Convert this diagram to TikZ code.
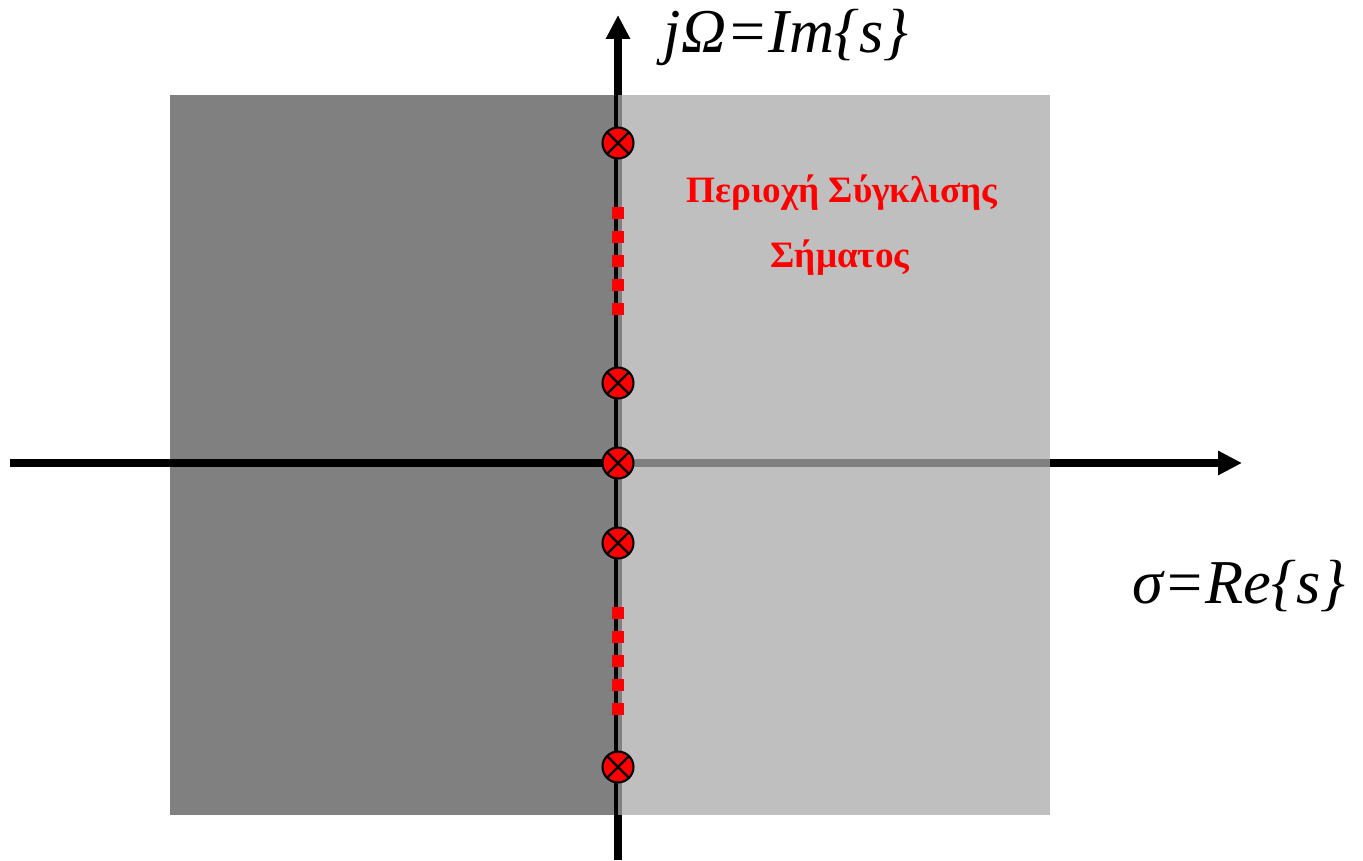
\documentclass[tikz,border=0pt]{standalone}
\usepackage{fontspec}
\setmainfont{Liberation Serif}
\usetikzlibrary{arrows.meta}
\definecolor{planegray}{HTML}{808080}
\definecolor{polered}{HTML}{FF0000}
\tikzset{
axis/.style={-{Triangle[length=13.6pt,width=13pt]},line width=4.5pt,draw=black},
pole/.style={circle,draw=black,fill=polered,line width=1.2pt,minimum size=17.6pt,inner sep=0pt,
  path picture={\draw[line width=1.3pt] (path picture bounding box.north west)--(path picture bounding box.south east)
  (path picture bounding box.north east)--(path picture bounding box.south west);}},
gapdot/.style={rectangle,fill=polered,minimum size=6.8pt,inner sep=0pt},
axislabel/.style={anchor=base,inner sep=0pt,font=\itshape\fontsize{35.5}{38}\selectfont},
roclabel/.style={font=\bfseries\fontsize{21.2}{23}\selectfont,text=polered,anchor=base,inner sep=0pt}}

\begin{document}
\begin{tikzpicture}[x=0.02cm,y=-0.02cm]
\useasboundingbox (0,0) rectangle (1363,861);
% s-plane and region of convergence
\fill[planegray] (170,95) rectangle (1050,815);
\coordinate (west) at (10,463);
\coordinate (east) at (1242,463);
\coordinate (south) at (618,860);
\coordinate (north) at (618,15);
\draw[axis] (west)--(east);
\draw[axis] (south)--(north);
\fill[white,fill opacity=.5] (618,95) rectangle (1050,815);
% poles on the imaginary axis
\foreach \y/\n in {143/1,383/2,463/3,543/4,767/5}
  \node[pole] (pole\n) at (618,\y) {};
\foreach \k in {0,...,4} {
  \node[gapdot] (up\k) at (618,213+24*\k) {};
  \node[gapdot] (down\k) at (618,613+24*\k) {};
}
\node[axislabel] (imlabel) at (786,53) {jΩ=Im\{s\}};
\node[axislabel] (relabel) at (1239,603) {σ=Re\{s\}};
\node[roclabel] (roc1) at (842,203) {Περιοχή Σύγκλισης};
\node[roclabel] (roc2) at (840,268) {Σήματος};
\end{tikzpicture}
\end{document}
